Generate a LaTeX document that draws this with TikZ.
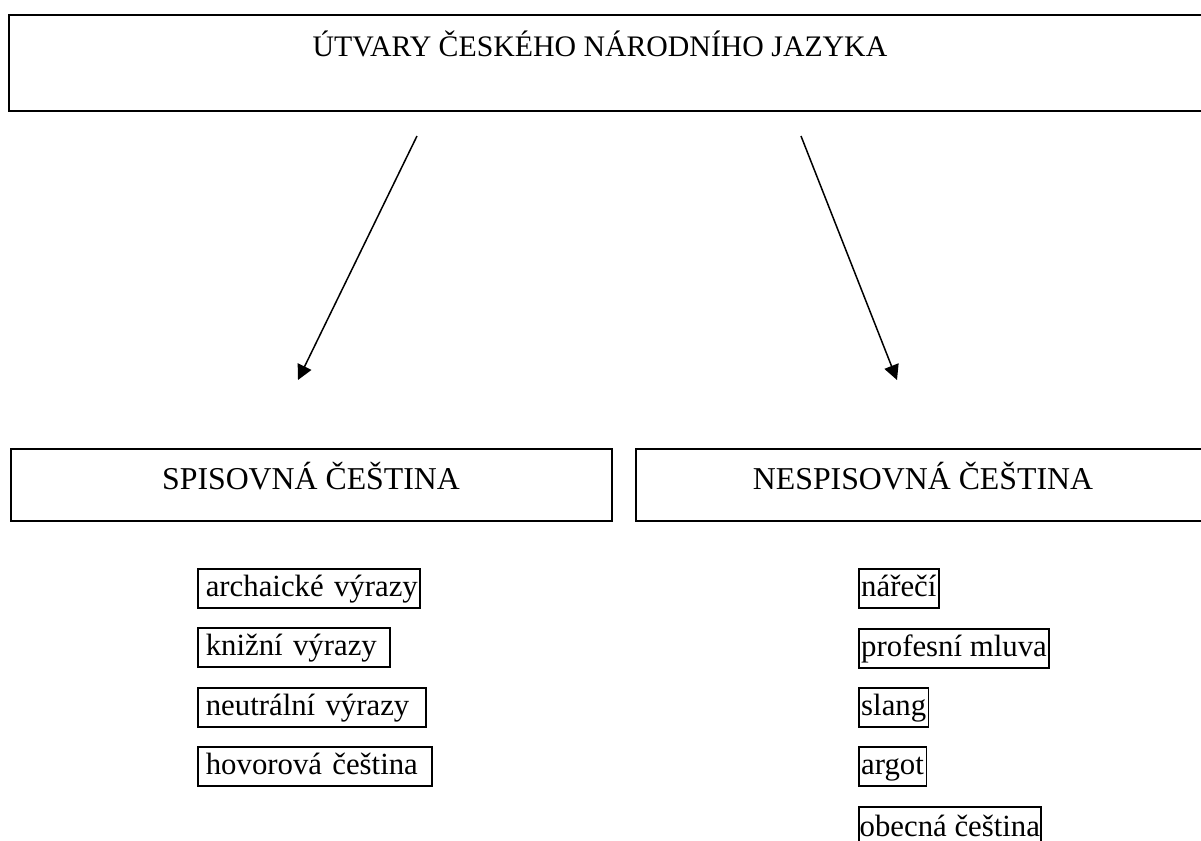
\documentclass[tikz,border=0pt]{standalone}
\usepackage{fontspec}
\setmainfont{Liberation Serif}
\usetikzlibrary{arrows.meta}
\begin{document}
\begin{tikzpicture}[x=0.5pt,y=-0.5pt,
  every node/.style={font=\fontsize{15.4pt}{18pt}\selectfont},
  bigbox/.style={draw, line width=1pt, inner sep=0pt, anchor=north west},
  lbox/.style={draw, line width=0.8pt, anchor=north west, minimum height=19.5pt, inner xsep=4pt, inner ysep=0pt, text height=11pt, text depth=3.2pt, text width=#1, align=left},
  rbox/.style={draw, line width=0.8pt, anchor=north west, minimum height=19.5pt, inner xsep=1.2pt, inner ysep=0pt, text height=11pt, text depth=3.2pt},
  arr/.style={line width=0.75pt, -{Triangle[length=7.5pt,width=7.5pt]}}
]
\path[use as bounding box] (0,0) rectangle (1201,841);
\clip (0,0) rectangle (1201,841);
\fill[white] (0,0) rectangle (1201,841);

% top box
\node[bigbox, minimum width=604pt, minimum height=48pt] (top) at (8,14) {};
\node[anchor=base, font=\fontsize{14.9pt}{18pt}\selectfont] (toptext) at (600,56) {ÚTVARY ČESKÉHO NÁRODNÍHO JAZYKA};

% arrows
\coordinate (a1s) at (417,136);
\coordinate (a1e) at (298,380);
\coordinate (a2s) at (801,136);
\coordinate (a2e) at (897,380);
\draw[arr] (a1s) -- (a1e);
\draw[arr] (a2s) -- (a2e);

% second level
\node[bigbox, minimum width=300.5pt, minimum height=36pt] (spis) at (10,448) {};
\node[anchor=base, font=\fontsize{15.9pt}{18pt}\selectfont] (spistext) at (311,489) {SPISOVNÁ ČEŠTINA};
\node[bigbox, minimum width=292pt, minimum height=36pt] (nespis) at (635,448) {};
\node[anchor=base, font=\fontsize{15.9pt}{18pt}\selectfont] (nespistext) at (923,489) {NESPISOVNÁ ČEŠTINA};

% left list
\node[lbox=103pt] (l1) at (197,568) {\mbox{archaické výrazy}};
\node[lbox=88pt]  (l2) at (197,627) {\mbox{knižní výrazy}};
\node[lbox=106pt] (l3) at (197,687) {\mbox{neutrální výrazy}};
\node[lbox=109pt] (l4) at (197,746) {\mbox{hovorová čeština}};

% right list
\node[rbox] (r1) at (858,568) {nářečí};
\node[rbox] (r2) at (858,628) {profesní mluva};
\node[rbox] (r3) at (858,687) {slang};
\node[rbox] (r4) at (858,746) {argot};
\node[rbox, inner xsep=0.4pt, minimum height=22pt] (r5) at (858,806) {obecná čeština};
\end{tikzpicture}
\end{document}
